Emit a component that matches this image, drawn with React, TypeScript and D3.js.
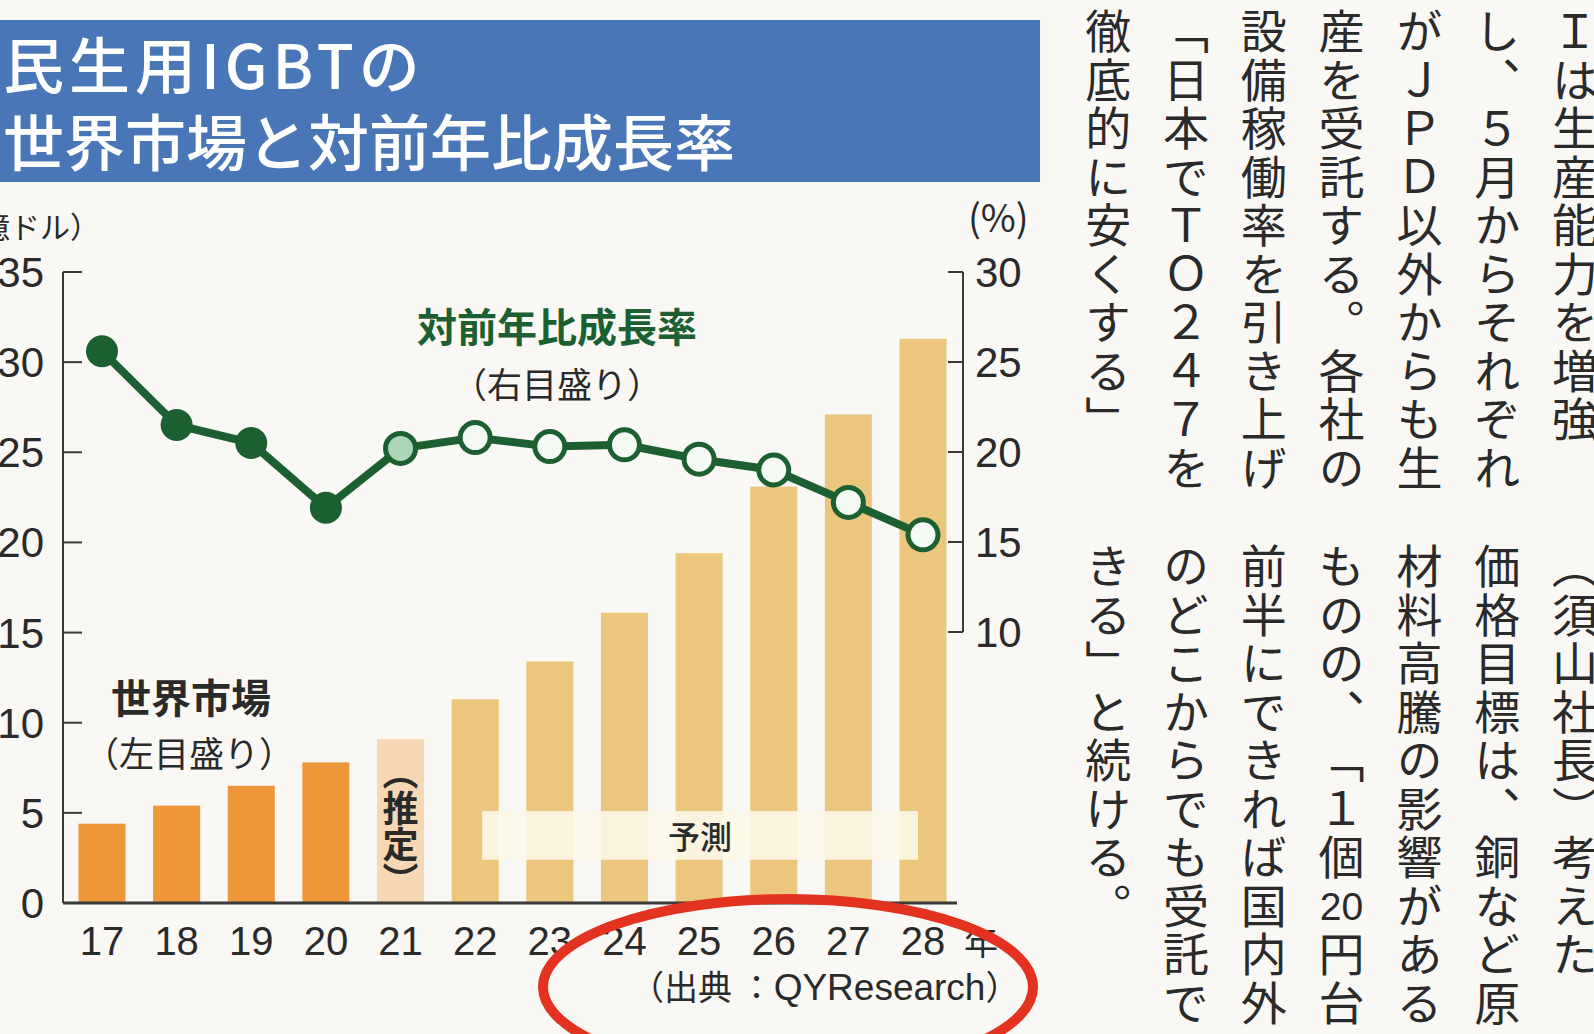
import React from 'react';
import * as d3 from 'd3';

// ---------- data ----------
const years = ['17', '18', '19', '20', '21', '22', '23', '24', '25', '26', '27', '28'];
const marketValues = [4.4, 5.4, 6.5, 7.8, 9.1, 11.3, 13.4, 16.1, 19.4, 23.1, 27.1, 31.3]; // 億ドル
const growthRates = [25.6, 21.5, 20.5, 16.9, 20.2, 20.8, 20.3, 20.4, 19.6, 19.0, 17.2, 15.4]; // %
const status = ['actual', 'actual', 'actual', 'actual', 'estimate', 'forecast', 'forecast', 'forecast', 'forecast', 'forecast', 'forecast', 'forecast'];
const leftTicks = [0, 5, 10, 15, 20, 25, 30, 35];
const rightTicks = [10, 15, 20, 25, 30];
const titleLines = ['民生用IGBTの', '世界市場と対前年比成長率'];

// article columns, right to left; {..} = horizontal-in-vertical
const articleTop = [
  'Ｉは生産能力を増強',
  'し、５月からそれぞれ',
  'がＪＰＤ以外からも生',
  '産を受託する。各社の',
  '設備稼働率を引き上げ',
  '「日本でＴＯ２４７を',
  '徹底的に安くする」',
];
const articleBottom = [
  '（須山社長）考えた',
  '価格目標は、銅など原',
  '材料高騰の影響がある',
  'ものの、「１個{20}円台',
  '前半にできれば国内外',
  'のどこからでも受託で',
  'きる」と続ける。',
];

// ---------- styles ----------
const W = 1594;
const H = 1034;
const JP = '"Noto Sans CJK JP", "Noto Sans", sans-serif';
const NUM = '"Liberation Sans", Arial, sans-serif';
const C = {
  bg: '#f9f8f4',
  banner: '#4876b6',
  actual: '#ee963a',
  estimate: '#f6d9b4',
  forecast: '#ecc67c',
  green: '#1c5f30',
  estFill: '#acd6b6',
  openFill: '#f3f9f3',
  axis: '#3a3a3a',
  text: '#2a2a2a',
  red: '#e3321f',
};

function parseColumn(s: string): { t: string; h: boolean }[] {
  const out: { t: string; h: boolean }[] = [];
  let i = 0;
  while (i < s.length) {
    if (s[i] === '{') {
      const j = s.indexOf('}', i);
      out.push({ t: s.slice(i + 1, j), h: true });
      i = j + 1;
    } else {
      out.push({ t: s[i], h: false });
      i += 1;
    }
  }
  return out;
}

function Column({ text, cx, top, pitch, size }: { text: string; cx: number; top: number; pitch: number; size: number }) {
  const cells = parseColumn(text);
  return (
    <g>
      {cells.map((c, i) =>
        c.h ? (
          <text key={i} x={cx} y={top + i * pitch + pitch / 2} textAnchor="middle" dominantBaseline="central"
            fontFamily={NUM} fontSize={size * 0.85} fill={C.text}>{c.t}</text>
        ) : (
          <text key={i} x={cx} y={top + i * pitch} style={{ writingMode: 'vertical-rl' as any }}
            fontFamily={JP} fontSize={size} fill={C.text}>{c.t}</text>
        )
      )}
    </g>
  );
}

export default function App() {
  const x = d3.scalePoint<string>().domain(years).range([102, 923]);
  const barW = x.step() * 0.63;
  const yL = d3.scaleLinear().domain([0, 35]).range([903, 272]);
  const yR = d3.scaleLinear().domain([10, 30]).range([632, 272]);
  const axisLeftX = 63;
  const axisRightX = 963;

  const line = d3.line<number>()
    .x((_, i) => x(years[i]) as number)
    .y((d) => yR(d));

  const barFill = (s: string) => (s === 'actual' ? C.actual : s === 'estimate' ? C.estimate : C.forecast);

  const fcFirst = years[status.indexOf('forecast')];
  const fcLast = years[years.length - 1];
  const bandX0 = (x(fcFirst) as number) + 7;
  const bandX1 = (x(fcLast) as number) - 5;
  const bandY0 = yL(5.1);
  const bandY1 = yL(2.4);

  const estYear = years[status.indexOf('estimate')];
  const estX = x(estYear) as number;

  const colX = (i: number) => 1575 - i * 77.8;

  return (
    <svg width={W} height={H} viewBox={`0 0 ${W} ${H}`} style={{ position: 'absolute', left: 0, top: 0, display: 'block' }}>
      <rect x={0} y={0} width={W} height={H} fill={C.bg} />

      {/* title banner */}
      <rect x={0} y={20} width={1040} height={162} fill={C.banner} />
      <text x={3} y={89} fontFamily={JP} fontSize={61} fontWeight={500} fill="#ffffff" letterSpacing={5}>{titleLines[0]}</text>
      <text x={3} y={166} fontFamily={JP} fontSize={61} fontWeight={500} fill="#ffffff" letterSpacing={0}>{titleLines[1]}</text>

      {/* unit labels */}
      <text x={100} y={238} textAnchor="end" fontFamily={JP} fontSize={30} fill={C.text}>（億ドル）</text>
      <text x={968} y={232} fontFamily={JP} fontSize={38} fill={C.text}>(%)</text>

      {/* bars */}
      {marketValues.map((v, i) => (
        <rect key={years[i]} x={(x(years[i]) as number) - barW / 2} y={yL(v)} width={barW} height={yL(0) - yL(v)} fill={barFill(status[i])} />
      ))}

      {/* forecast band */}
      <rect x={bandX0} y={bandY0} width={bandX1 - bandX0} height={bandY1 - bandY0} fill="#fcf8ea" opacity={0.9} />
      <text x={(bandX0 + bandX1) / 2} y={(bandY0 + bandY1) / 2} textAnchor="middle" dominantBaseline="central"
        fontFamily={JP} fontSize={32} fontWeight={500} fill={C.text}>予測</text>

      {/* estimate label (vertical) */}
      <text x={estX} y={754} style={{ writingMode: 'vertical-rl' as any }} fontFamily={JP} fontSize={36} fontWeight={700} fill={C.text}>（推定）</text>

      {/* left axis */}
      <line x1={axisLeftX} x2={axisLeftX} y1={yL(35)} y2={yL(0)} stroke={C.axis} strokeWidth={2} />
      {leftTicks.map((t) => (
        <g key={t}>
          {t > 0 && <line x1={axisLeftX} x2={axisLeftX + 19} y1={yL(t)} y2={yL(t)} stroke={C.axis} strokeWidth={2} />}
          <text x={44} y={yL(t) + 15} textAnchor="end" fontFamily={NUM} fontSize={42} fill={C.text}>{t}</text>
        </g>
      ))}

      {/* right axis */}
      <line x1={axisRightX} x2={axisRightX} y1={yR(30)} y2={yR(10)} stroke={C.axis} strokeWidth={2} />
      {rightTicks.map((t) => (
        <g key={t}>
          <line x1={axisRightX - 15} x2={axisRightX} y1={yR(t)} y2={yR(t)} stroke={C.axis} strokeWidth={2} />
          <text x={975} y={yR(t) + 15} fontFamily={NUM} fontSize={42} fill={C.text}>{t}</text>
        </g>
      ))}

      {/* baseline */}
      <line x1={axisLeftX} x2={957} y1={yL(0)} y2={yL(0)} stroke={C.axis} strokeWidth={3} />

      {/* x labels */}
      {years.map((yv) => (
        <text key={yv} x={x(yv) as number} y={955} textAnchor="middle" fontFamily={NUM} fontSize={40} fill={C.text}>{yv}</text>
      ))}
      <text x={964} y={955} fontFamily={JP} fontSize={34} fill={C.text}>年</text>

      {/* growth line */}
      <path d={line(growthRates) as string} fill="none" stroke={C.green} strokeWidth={8} strokeLinejoin="round" />
      {growthRates.map((v, i) => {
        const s = status[i];
        const fill = s === 'actual' ? C.green : s === 'estimate' ? C.estFill : C.openFill;
        return (
          <circle key={years[i]} cx={x(years[i]) as number} cy={yR(v)} r={s === 'actual' ? 16 : 15}
            fill={fill} stroke={C.green} strokeWidth={s === 'actual' ? 0 : 5} />
        );
      })}

      {/* series labels */}
      <text x={557} y={342} textAnchor="middle" fontFamily={JP} fontSize={40} fontWeight={700} fill={C.green}>対前年比成長率</text>
      <text x={557} y={398} textAnchor="middle" fontFamily={JP} fontSize={35} fill={C.text}>（右目盛り）</text>
      <text x={191} y={713} textAnchor="middle" fontFamily={JP} fontSize={40} fontWeight={700} fill={C.text}>世界市場</text>
      <text x={189} y={767} textAnchor="middle" fontFamily={JP} fontSize={35} fill={C.text}>（左目盛り）</text>

      {/* source */}
      <text x={630} y={1000} fontFamily={JP} fontSize={34} fill={C.text}>
        （出典 ：<tspan fontFamily={NUM} fontSize={37}>QYResearch</tspan>）
      </text>

      {/* red annotation ellipse */}
      <ellipse cx={788} cy={987} rx={245} ry={88} fill="none" stroke={C.red} strokeWidth={10} />

      {/* article text */}
      {articleTop.map((t, i) => (
        <Column key={'t' + i} text={t} cx={colX(i)} top={8} pitch={48.5} size={46} />
      ))}
      {articleBottom.map((t, i) => (
        <Column key={'b' + i} text={t} cx={colX(i)} top={543} pitch={48.5} size={46} />
      ))}
    </svg>
  );
}
